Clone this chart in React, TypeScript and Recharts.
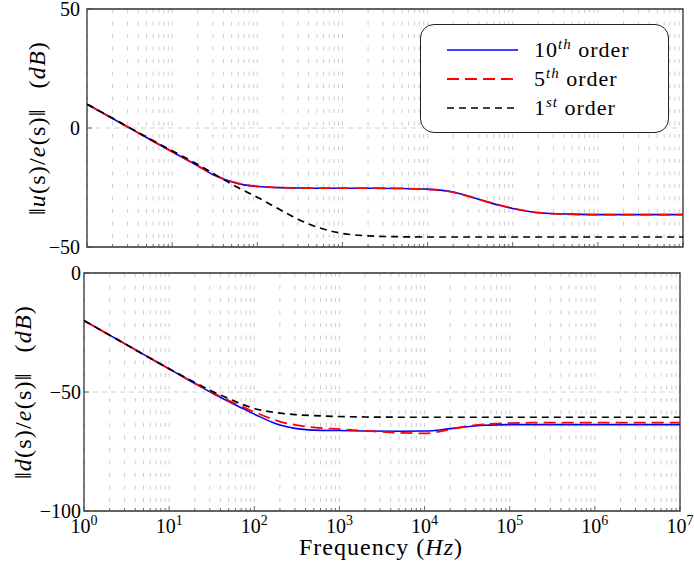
import React from 'react';
import { LineChart, Line, XAxis, YAxis, CartesianGrid, ReferenceArea, Legend } from 'recharts';

const FONT = 'Liberation Serif, Times New Roman, Tinos, DejaVu Serif, serif';

// frequency samples (Hz)
const freq = [1, 2, 5, 10, 20, 30, 50, 70, 100, 200, 300, 500, 1e3, 2e3, 5e3, 1e4, 2e4, 3e4, 5e4, 7e4, 1e5, 2e5, 5e5, 1e6, 1e7];

// ||u(s)/e(s)|| in dB
const u10 = [10, 4.0, -4.0, -10.0, -15.9, -19.5, -22.6, -23.9, -24.6, -25.1, -25.2, -25.3, -25.3, -25.3, -25.4, -25.7, -26.9, -28.6, -31.0, -32.5, -33.8, -35.6, -36.2, -36.4, -36.4];
const u5 = [10, 4.0, -4.0, -10.0, -15.9, -19.4, -22.5, -23.8, -24.5, -25.1, -25.2, -25.3, -25.3, -25.3, -25.4, -25.8, -27.0, -28.7, -31.0, -32.4, -33.7, -35.6, -36.3, -36.4, -36.4];
const u1 = [10, 4.1, -3.8, -9.6, -15.3, -19.0, -23.6, -26.3, -29.1, -35.0, -38.3, -41.6, -44.3, -45.3, -45.7, -45.8, -45.8, -45.8, -45.8, -45.8, -45.8, -45.8, -45.8, -45.8, -45.8];

// ||d(s)/e(s)|| in dB
const d10 = [-20, -26.1, -34.2, -40.3, -46.4, -49.9, -54.0, -56.6, -59.3, -63.9, -65.3, -66.0, -66.2, -66.4, -66.5, -66.4, -65.4, -64.7, -64.0, -63.8, -63.7, -63.7, -63.7, -63.7, -63.7];
const d5 = [-20, -26.1, -34.2, -40.3, -46.3, -49.7, -53.6, -56.0, -58.4, -62.4, -63.8, -64.9, -65.6, -66.3, -67.1, -67.4, -65.7, -64.5, -63.6, -63.3, -63.1, -62.9, -62.9, -62.9, -62.9];
const d1 = [-20, -26.1, -34.2, -40.2, -46.0, -49.2, -52.8, -55.0, -56.9, -58.9, -59.5, -59.9, -60.3, -60.5, -60.6, -60.6, -60.6, -60.6, -60.6, -60.6, -60.6, -60.6, -60.6, -60.6, -60.6];

const decades = [1, 10, 100, 1e3, 1e4, 1e5, 1e6];
const xTicks = [...decades.flatMap((d) => [1, 2, 3, 4, 5, 6, 7, 8, 9].map((m) => m * d)), 1e7];
const topTicks = [-50, 0, 50];
const bottomTicks = [-100, -50, 0];

const series = [
  { key: 'o10', num: '10', sup: 'th', color: '#0000ff', dash: undefined as string | undefined, width: 1.6 },
  { key: 'o5', num: '5', sup: 'th', color: '#ff0000', dash: '12 6', width: 1.8 },
  { key: 'o1', num: '1', sup: 'st', color: '#000000', dash: '7 5', width: 1.7 },
];

const topData = freq.map((f, i) => ({ f, o10: u10[i], o5: u5[i], o1: u1[i] }));
const bottomData = freq.map((f, i) => ({ f, o10: d10[i], o5: d5[i], o1: d1[i] }));

const XTick = ({ x, y, payload, showLabel }: any) => {
  const lg = Math.log10(payload.value);
  const exp = Math.round(lg);
  const major = Math.abs(lg - exp) < 1e-6;
  return (
    <g>
      <line x1={x} x2={x} y1={y} y2={y - (major ? 5 : 3)} stroke="#444" strokeWidth={0.8} />
      {major && showLabel && (
        <text x={x} y={y + 22} textAnchor="middle" style={{ fontFamily: FONT }} fontSize={20} fill="#000">
          10
          <tspan dy={-8} fontSize={14}>{exp}</tspan>
        </text>
      )}
    </g>
  );
};

const YTick = ({ x, y, payload, gap }: any) => {
  const v = payload.value;
  const label = v < 0 ? '\u2212' + Math.abs(v) : String(v);
  return (
    <g>
      <line x1={x} x2={x + 5} y1={y} y2={y} stroke="#444" strokeWidth={0.8} />
      <text x={x - gap} y={y + 7} textAnchor="end" style={{ fontFamily: FONT }} fontSize={20} fill="#000">
        {label}
      </text>
    </g>
  );
};

const YLabel = ({ x, y, sym }: { x: number; y: number; sym: string }) => (
  <text
    x={x}
    y={y}
    transform={`rotate(-90, ${x}, ${y})`}
    textAnchor="middle"
    style={{ fontFamily: FONT }}
    fontSize={24}
    letterSpacing={1.2}
    fill="#000"
  >
    {'\u2016'}
    <tspan fontStyle="italic">{sym}</tspan>
    (s)/
    <tspan fontStyle="italic">e</tspan>
    (s){'\u2016'}
    <tspan dx={20}>(</tspan>
    <tspan fontStyle="italic">dB</tspan>)
  </text>
);

const LegendBox = () => (
  <div
    style={{
      boxSizing: 'border-box',
      width: 249,
      height: 109,
      border: '1.3px solid #222',
      borderRadius: 14,
      background: '#fff',
      paddingTop: 10,
      fontFamily: FONT,
      fontSize: 22,
      color: '#000',
    }}
  >
    {series.map((s) => (
      <div key={s.key} style={{ display: 'flex', alignItems: 'center', height: 29, paddingLeft: 26 }}>
        <svg width={71} height={10}>
          <line x1={0} x2={71} y1={5} y2={5} stroke={s.color} strokeWidth={s.width} strokeDasharray={s.dash} />
        </svg>
        <span style={{ marginLeft: 16, letterSpacing: 1 }}>
          {s.num}
          <sup style={{ fontSize: 15, fontStyle: 'italic', verticalAlign: 8 }}>{s.sup}</sup> order
        </span>
      </div>
    ))}
  </div>
);

const renderLines = () =>
  series.map((s) => (
    <Line
      key={s.key}
      type="monotone"
      dataKey={s.key}
      stroke={s.color}
      strokeWidth={s.width}
      strokeDasharray={s.dash}
      dot={false}
      isAnimationActive={false}
    />
  ));

export default function App() {
  return (
    <div style={{ position: 'absolute', left: 0, top: 0, width: 694, height: 565, background: '#fff', fontFamily: FONT }}>
      <div style={{ position: 'absolute', left: 0, top: 0 }}>
        <LineChart width={694} height={260} data={topData} margin={{ top: 9, right: 11, bottom: 0, left: 0 }}>
          <CartesianGrid vertical={false} stroke="#d2d2d2" strokeDasharray="5 4" />
          <CartesianGrid horizontal={false} stroke="#cdcdcd" strokeDasharray="4 8.5" />
          <XAxis
            dataKey="f"
            type="number"
            scale="log"
            domain={[1, 1e7]}
            ticks={xTicks}
            interval={0}
            height={13}
            axisLine={false}
            tickLine={false}
            tickSize={0}
            tickMargin={0}
            allowDataOverflow
            tick={(p: any) => <XTick {...p} showLabel={false} />}
          />
          <YAxis
            type="number"
            domain={[-50, 50]}
            ticks={topTicks}
            interval={0}
            width={87}
            axisLine={false}
            tickLine={false}
            tickSize={0}
            tickMargin={0}
            allowDataOverflow
            tick={(p: any) => <YTick {...p} gap={7} />}
            label={{ content: () => <YLabel x={45} y={128} sym="u" /> }}
          />
          <ReferenceArea x1={1} x2={1e7} y1={-50} y2={50} fill="none" stroke="#333" strokeWidth={1.3} />
          {renderLines()}
          <Legend
            layout="horizontal"
            verticalAlign="middle"
            align="center"
            wrapperStyle={{ left: 420, top: 24, width: 249 }}
            content={() => <LegendBox />}
          />
        </LineChart>
      </div>
      <div style={{ position: 'absolute', left: 0, top: 260 }}>
        <LineChart width={694} height={305} data={bottomData} margin={{ top: 13, right: 14, bottom: 0, left: 0 }}>
          <CartesianGrid vertical={false} stroke="#d2d2d2" strokeDasharray="5 4" />
          <CartesianGrid horizontal={false} stroke="#cdcdcd" strokeDasharray="4 8.5" />
          <XAxis
            dataKey="f"
            type="number"
            scale="log"
            domain={[1, 1e7]}
            ticks={xTicks}
            interval={0}
            height={54}
            axisLine={false}
            tickLine={false}
            tickSize={0}
            tickMargin={0}
            allowDataOverflow
            tick={(p: any) => <XTick {...p} showLabel />}
            label={{
              content: () => (
                <text x={381} y={295} textAnchor="middle" style={{ fontFamily: FONT }} fontSize={24} letterSpacing={1} fill="#000">
                  Frequency (<tspan fontStyle="italic">Hz</tspan>)
                </text>
              ),
            }}
          />
          <YAxis
            type="number"
            domain={[-100, 0]}
            ticks={bottomTicks}
            interval={0}
            width={84}
            axisLine={false}
            tickLine={false}
            tickSize={0}
            tickMargin={0}
            allowDataOverflow
            tick={(p: any) => <YTick {...p} gap={3} />}
            label={{ content: () => <YLabel x={31} y={132} sym="d" /> }}
          />
          <ReferenceArea x1={1} x2={1e7} y1={-100} y2={0} fill="none" stroke="#333" strokeWidth={1.3} />
          {renderLines()}
        </LineChart>
      </div>
    </div>
  );
}
